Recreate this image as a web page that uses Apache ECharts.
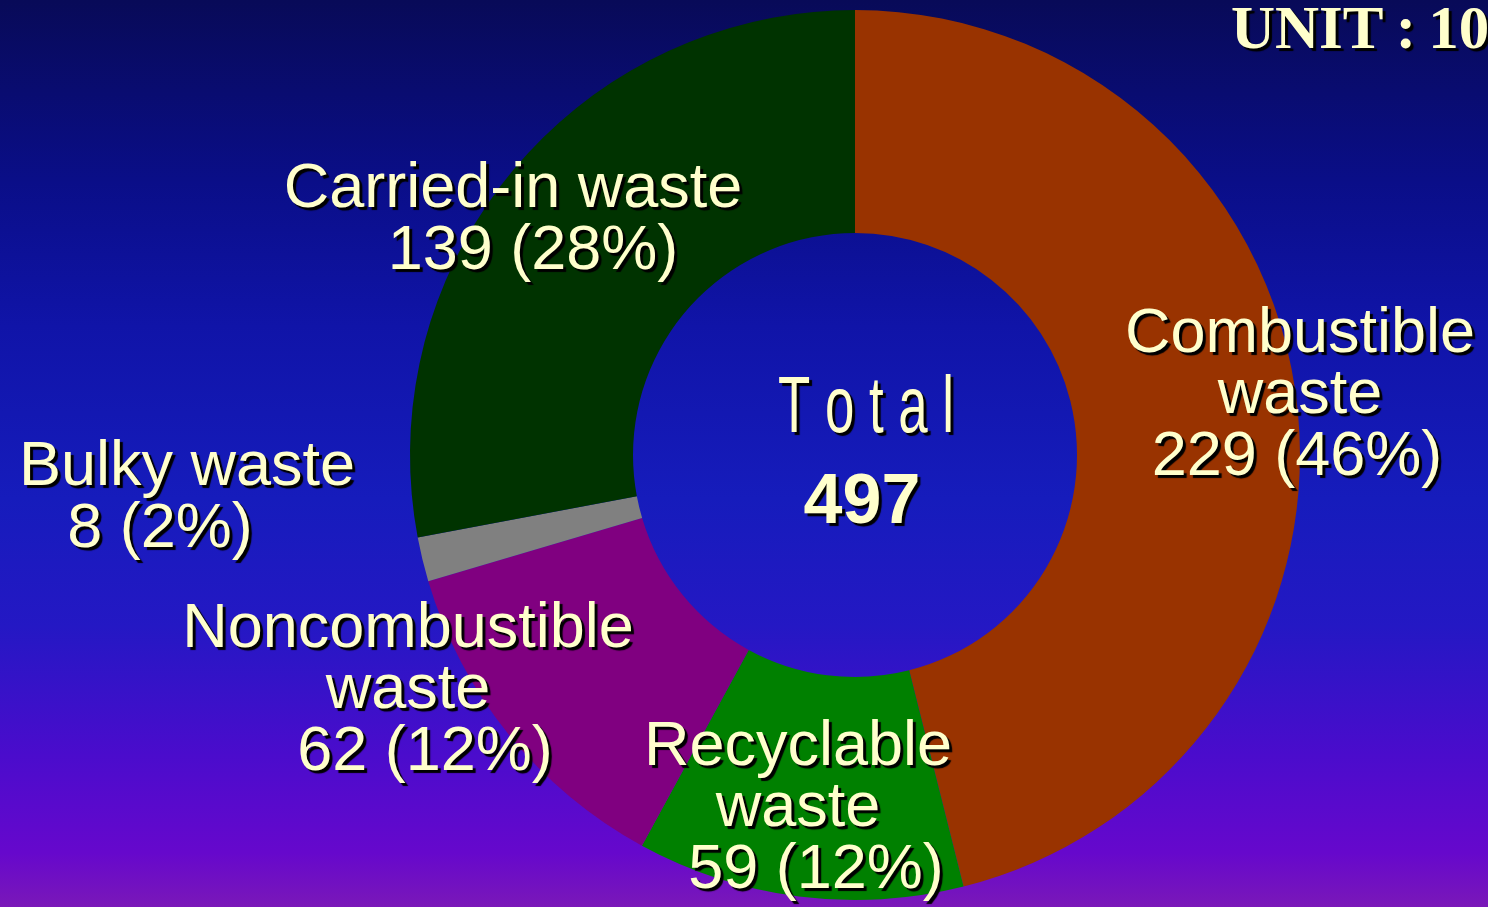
<!DOCTYPE html>
<html><head><meta charset="utf-8">
<script src="https://cdn.jsdelivr.net/npm/echarts@6/dist/echarts.min.js"></script>
<style>html,body{margin:0;padding:0;}#c{width:1488px;height:907px;}</style>
</head><body><div id="c"></div>
<script>
const categories = ['Combustible waste', 'Recyclable waste', 'Noncombustible waste', 'Bulky waste', 'Carried-in waste'];
const nameLines = [['Combustible', 'waste'], ['Recyclable', 'waste'], ['Noncombustible', 'waste'], ['Bulky waste'], ['Carried-in waste']];
const values = [229, 59, 62, 8, 139];
const colors = ['#993300', '#008000', '#800080', '#808080', '#003300'];
const totalLabel = 'T o t a l';
const unitLabel = 'UNIT\u2009:\u200910,000t';

const total = values.reduce((a, b) => a + b, 0);
const pct = values.map(v => Math.round(v / total * 100));

// label anchor (center x, first baseline y) and value-line center x
const labelPos = [
  {x: 1300, y: 355, vx: 1297},
  {x: 798, y: 768, vx: 816},
  {x: 408, y: 650, vx: 425},
  {x: 187, y: 488, vx: 160},
  {x: 513, y: 210, vx: 533}
];
const LH = 61;
const txtStyle = {fill: '#ffffcc', textShadowColor: '#000', textShadowOffsetX: 3, textShadowOffsetY: 3, textShadowBlur: 1};
function txt(x, baseline, text, size, font, align, extra) {
  return Object.assign({
    type: 'text', z: 100, x: x, y: baseline - size * 0.84,
    style: Object.assign({text: text, font: font, align: align, verticalAlign: 'top'}, txtStyle)
  }, extra || {});
}

const graphics = [];
const F62 = '63px "Liberation Sans", Arial, sans-serif';
categories.forEach((c, i) => {
  const p = labelPos[i];
  nameLines[i].forEach((ln, k) => {
    graphics.push(txt(p.x, p.y + k * LH, ln, 62, F62, 'center'));
  });
  const vl = values[i] + ' (' + pct[i] + '%)';
  graphics.push(txt(p.vx, p.y + nameLines[i].length * LH + 1, vl, 62, F62, 'center'));
});
graphics.push(txt(866, 437, totalLabel, 80, '80px "Liberation Sans", Arial, sans-serif', 'center', {scaleX: 0.66}));
graphics.push(txt(862, 528, String(total), 70, 'bold 70px "Liberation Sans", Arial, sans-serif', 'center'));
graphics.push(txt(1231, 52, unitLabel, 60, 'bold 61px "Liberation Serif", "Times New Roman", serif', 'left'));

const chart = echarts.init(document.getElementById('c'), null, {renderer: 'canvas'});
chart.setOption({
  backgroundColor: {
    type: 'linear', x: 0, y: 0, x2: 0, y2: 1,
    colorStops: [
      {offset: 0, color: '#080a58'},
      {offset: 0.2, color: '#0a0e88'},
      {offset: 0.36, color: '#1014a8'},
      {offset: 0.55, color: '#161cbc'},
      {offset: 0.69, color: '#2418c4'},
      {offset: 0.83, color: '#4a0ccc'},
      {offset: 0.94, color: '#6608cc'},
      {offset: 1, color: '#7a18b8'}
    ]
  },
  animation: false,
  series: [{
    type: 'pie',
    center: [855, 455],
    radius: [222, 445],
    startAngle: 90,
    clockwise: true,
    label: {show: false},
    labelLine: {show: false},
    emphasis: {disabled: true},
    itemStyle: {borderWidth: 0},
    data: categories.map((c, i) => ({name: c, value: values[i], itemStyle: {color: colors[i]}}))
  }],
  graphic: graphics
});
</script></body></html>
